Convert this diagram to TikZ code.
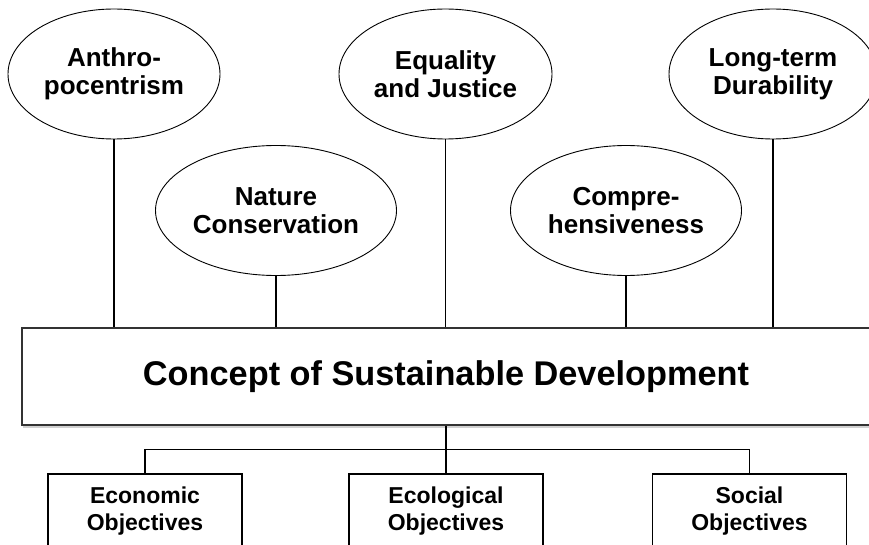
\documentclass[tikz,border=0pt]{standalone}
\usepackage{fontspec}
\setmainfont{Liberation Sans}
\usetikzlibrary{shapes.geometric}
\usetikzlibrary{shadows}

\begin{document}
\begin{tikzpicture}[x=1pt,y=-1pt,
		principle/.style={ellipse,draw,line width=0.9pt,inner sep=0pt,
			minimum height=130pt,align=center,
			font=\fontsize{26}{28}\selectfont\bfseries},
		concept/.style={rectangle,draw=black!80,line width=1.2pt,fill=white,
			minimum width=848pt,minimum height=97pt,
			font=\fontsize{34.3}{40}\selectfont\bfseries,
			drop shadow={shadow xshift=0.5pt,shadow yshift=-2.5pt,fill=black!18,opacity=1}},
		objective/.style={rectangle,draw,line width=1.8pt,
			minimum width=194pt,minimum height=74pt,align=center,
			font=\fontsize{23}{27}\selectfont\bfseries},
		link/.style={line width=1.5pt}]
	\useasboundingbox (0,0) rectangle (869,545);
	% principles on top
	\node[principle,minimum width=212pt] (anthro) at (114,74) {Anthro-\\pocentrism};
	\node[principle,minimum width=213pt] (equality) at (445.5,74) {Equality\\and Justice};
	\node[principle,minimum width=208pt] (durability) at (773,74) {Long-term\\Durability};
	\node[principle,minimum width=241pt] (nature) at (276,210.5) {Nature\\Conservation};
	\node[principle,minimum width=231pt] (compre) at (626,210.5) {Compre-\\hensiveness};
	% the concept itself
	\node[concept] (concept) at (446,376.5) {Concept of Sustainable Development};
	% objectives below
	\node[objective] (econ) at (145,511) {Economic\\Objectives};
	\node[objective] (ecol) at (446,511) {Ecological\\Objectives};
	\node[objective] (social) at (749.5,511) {Social\\Objectives};
	\foreach \p in {anthro,equality,durability,nature,compre}
		\draw[link] (\p.south) -- (\p.south |- concept.north);
	\coordinate (fork) at (446,449.5);
	\draw[link] (concept.south) -- (fork);
	\draw[link] (econ.north) |- (fork) -| (social.north);
	\draw[link] (fork) -- (ecol.north);
\end{tikzpicture}
\end{document}
